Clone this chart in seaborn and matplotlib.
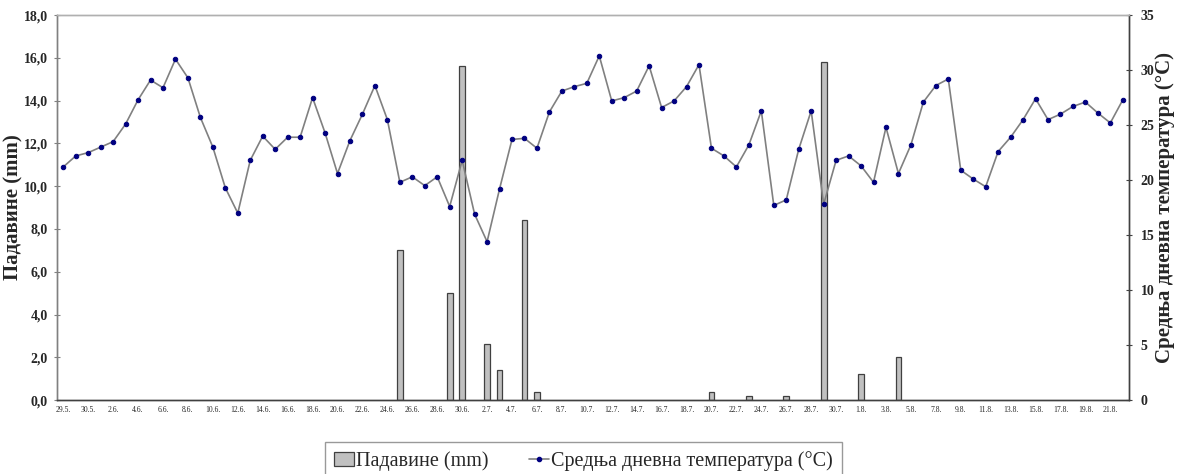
import numpy as np
import pandas as pd
import seaborn as sns
import matplotlib.pyplot as plt
from matplotlib.patches import Patch
from matplotlib.lines import Line2D

## Data (86 days, 29.5. - 22.8.)
temperature = [21.2, 22.2, 22.5, 23.0, 23.5, 25.1, 27.3, 29.1, 28.4, 31.0,
               29.3, 25.7, 23.0, 19.3, 17.0, 21.8, 24.0, 22.8, 23.9, 23.9,
               27.5, 24.3, 20.6, 23.6, 26.0, 28.6, 25.5, 19.8, 20.3, 19.5,
               20.3, 17.6, 21.8, 16.9, 14.4, 19.2, 23.7, 23.8, 22.9, 26.2,
               28.1, 28.5, 28.8, 31.3, 27.2, 27.5, 28.1, 30.4, 26.6, 27.2,
               28.5, 30.5, 22.9, 22.2, 21.2, 23.2, 26.3, 17.7, 18.2, 22.8,
               26.3, 17.8, 21.8, 22.2, 21.3, 19.8, 24.8, 20.6, 23.2, 27.1,
               28.6, 29.2, 20.9, 20.1, 19.4, 22.6, 23.9, 25.5, 27.4, 25.5,
               26.0, 26.7, 27.1, 26.1, 25.2, 27.3]

# days with rain (position in the series) and amount
rain_day = [27, 31, 32, 34, 35, 37, 38, 52, 55, 58, 61, 64, 67]
rain_mm = [7.0, 5.0, 15.6, 2.6, 1.4, 8.4, 0.4, 0.4, 0.2, 0.2, 15.8, 1.2, 2.0]

tick_labels = ["29.5.", "30.5.", "2.6.", "4.6.", "6.6.", "8.6.", "10.6.", "12.6.",
               "14.6.", "16.6.", "18.6.", "20.6.", "22.6.", "24.6.", "26.6.",
               "28.6.", "30.6.", "2.7.", "4.7.", "6.7.", "8.7.", "10.7.", "12.7.",
               "14.7.", "16.7.", "18.7.", "20.7.", "22.7.", "24.7.", "26.7.",
               "28.7.", "30.7.", "1.8.", "3.8.", "5.8.", "7.8.", "9.8.", "11.8.",
               "13.8.", "15.8.", "17.8.", "19.8.", "21.8."]

temp_df = pd.DataFrame({"day": np.arange(len(temperature)), "temp": temperature})
rain_df = pd.DataFrame({"day": rain_day, "rain": rain_mm})

sns.set_theme(style="white")
plt.rcParams['font.family'] = ['Liberation Serif', 'DejaVu Serif']

fig = plt.figure(figsize=(11.81, 4.74), dpi=100)
ax = fig.add_axes([0.0483, 0.156, 0.9077, 0.812])

sns.barplot(data=rain_df, x="day", y="rain", native_scale=True, width=0.46,
            color="#c0c0c0", edgecolor="#404040", linewidth=0.9,
            saturation=1, ax=ax)

ax2 = ax.twinx()
sns.lineplot(data=temp_df, x="day", y="temp", color="#808080", linewidth=1.2,
             marker="o", markersize=3.2, markerfacecolor="#000080",
             markeredgecolor="#000080", ax=ax2)

n = len(temperature)
ax.set_xlim(-0.5, n - 0.5)
ax.set_ylim(0, 18)
ax2.set_ylim(0, 35)

ax.set_yticks(np.arange(0, 18.1, 2))
ax.set_yticklabels([f"{v:.1f}".replace(".", ",") for v in np.arange(0, 18.1, 2)],
                   fontsize=10, fontweight="bold")
ax2.set_yticks(np.arange(0, 36, 5))
ax2.set_yticklabels([str(v) for v in range(0, 36, 5)], fontsize=10, fontweight="bold")

ax.set_xticks(np.arange(0, n, 2))
ax.set_xticklabels(tick_labels, fontsize=5.5)
ax.set_xticks(np.arange(-0.5, n, 1), minor=True)
ax.tick_params(axis="x", which="major", length=0, pad=4)
ax.tick_params(axis="x", which="minor", direction="inout", length=5, width=0.8, color="#404040")
ax.tick_params(axis="y", direction="inout", length=5, width=0.8, color="#808080", pad=4)
ax2.tick_params(axis="y", direction="inout", length=5, width=0.8, color="#404040", pad=6)

ax.set_xlabel("")
ax.set_ylabel("Падавине (mm)", fontsize=15, fontweight="bold", labelpad=0)
ax2.set_xlabel("")
ax2.set_ylabel("Средња дневна температура (°C)", fontsize=15, fontweight="bold", labelpad=0)

for a in (ax, ax2):
    a.spines["top"].set_color("#b0b0b0")
    a.spines["left"].set_color("#808080")
    a.spines["right"].set_color("#404040")
    a.spines["bottom"].set_color("#404040")
    for s in a.spines.values():
        s.set_linewidth(1.0)

handles = [Patch(facecolor="#c0c0c0", edgecolor="#404040", linewidth=0.9),
           Line2D([], [], color="#808080", linewidth=1.2, marker="o", markersize=3,
                  markerfacecolor="#000080", markeredgecolor="#000080")]
leg = fig.legend(handles, ["Падавине (mm)", "Средња дневна температура (°C)"],
                 loc="upper center", bbox_to_anchor=(0.494, 0.067), ncol=2,
                 fontsize=14.5, frameon=True, fancybox=False, handlelength=1.0,
                 handletextpad=0.1, columnspacing=2.0, borderpad=0.45,
                 borderaxespad=0)
leg.get_frame().set_edgecolor("#808080")
leg.get_frame().set_linewidth(1.0)

fig.savefig("out.png", dpi=100)
